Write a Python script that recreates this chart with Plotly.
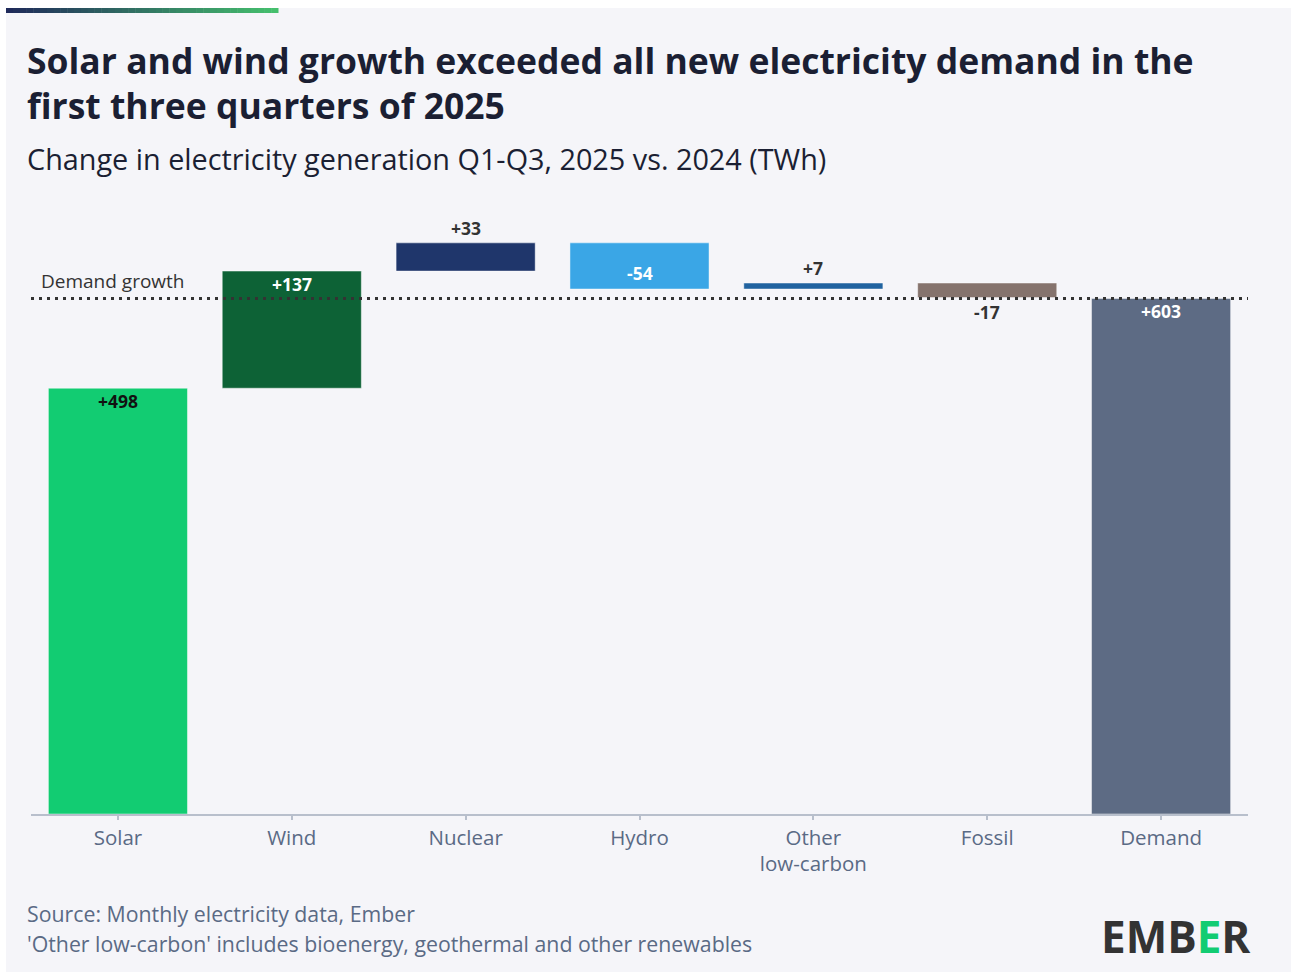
import plotly.graph_objects as go

categories = ["Solar", "Wind", "Nuclear", "Hydro", "Other<br>low-carbon", "Fossil", "Demand"]
changes = [498, 137, 33, -54, 7, -17, 603]
is_total = [False, False, False, False, False, False, True]
labels = ["+498", "+137", "+33", "-54", "+7", "-17", "+603"]
demand_growth = 603

colors = ["#12cc72", "#0d6236", "#1f366b", "#3aa6e6", "#2163a0", "#85736d", "#5d6b84"]
label_colors = ["#111111", "#ffffff", "#333333", "#ffffff", "#333333", "#333333", "#ffffff"]
label_place = ["inside", "inside", "above", "inside_low", "above", "below", "inside"]

W, H = 1291, 972
L, R, T, B = 31, 1248, 214, 814
YMAX = (B - T) / 0.855

def px(x):
    return (x - L) / (R - L)

def py(y):
    return (B - y) / (B - T)

# compute waterfall bases
bases, heights, tops, bottoms = [], [], [], []
cum = 0
for v, tot in zip(changes, is_total):
    if tot:
        b, h = 0, v
    else:
        b = cum if v >= 0 else cum + v
        h = abs(v)
        cum += v
    bases.append(b)
    heights.append(h)
    bottoms.append(b)
    tops.append(b + h)

font = "Open Sans"
fig = go.Figure()
fig.add_trace(go.Bar(
    x=categories, y=heights, base=bases,
    marker=dict(color=colors, line=dict(color="rgba(255,255,255,0.45)", width=1)),
    width=0.8, hoverinfo="skip", showlegend=False,
))

annotations = []
for c, t, b, lab, lc, pl in zip(categories, tops, bottoms, labels, label_colors, label_place):
    if pl == "inside":
        y, ys = t, -13
    elif pl == "above":
        y, ys = t, 15
    elif pl == "inside_low":
        y, ys = b, 16
    else:
        y, ys = b, -14
    annotations.append(dict(x=c, y=y, yshift=ys, text=f"<b>{lab}</b>", showarrow=False,
                            font=dict(family=font, size=17.5, color=lc), xanchor="center", yanchor="middle"))

# Demand growth label
annotations.append(dict(x=px(39), y=py(281), xref="paper", yref="paper", text="Demand growth",
                        showarrow=False, xanchor="left", yanchor="middle",
                        font=dict(family=font, size=19, color="#333333")))

# Titles
title_color = "#1b1f33"
annotations.append(dict(x=px(25), y=py(60), xref="paper", yref="paper",
                        text="<b>Solar and wind growth exceeded all new electricity demand in the</b>",
                        showarrow=False, xanchor="left", yanchor="middle",
                        font=dict(family=font, size=35.5, color=title_color)))
annotations.append(dict(x=px(25), y=py(105), xref="paper", yref="paper",
                        text="<b>first three quarters of 2025</b>",
                        showarrow=False, xanchor="left", yanchor="middle",
                        font=dict(family=font, size=35.5, color=title_color)))
annotations.append(dict(x=px(25), y=py(158), xref="paper", yref="paper",
                        text="Change in electricity generation Q1-Q3, 2025 vs. 2024 (TWh)",
                        showarrow=False, xanchor="left", yanchor="middle",
                        font=dict(family=font, size=28.8, color=title_color)))
# Footer
annotations.append(dict(x=px(25), y=py(913), xref="paper", yref="paper",
                        text="Source: Monthly electricity data, Ember",
                        showarrow=False, xanchor="left", yanchor="middle",
                        font=dict(family=font, size=21.3, color="#5a6a85")))
annotations.append(dict(x=px(25), y=py(943), xref="paper", yref="paper",
                        text="'Other low-carbon' includes bioenergy, geothermal and other renewables",
                        showarrow=False, xanchor="left", yanchor="middle",
                        font=dict(family=font, size=21.3, color="#5a6a85")))
annotations.append(dict(x=px(1253), y=py(936), xref="paper", yref="paper",
                        text="<b>EMB<span style='color:#12cc72'>E</span>R</b>",
                        showarrow=False, xanchor="right", yanchor="middle",
                        font=dict(family=font, size=44, color="#333333")))

shapes = []
# card background
shapes.append(dict(type="rect", xref="paper", yref="paper", x0=px(6), x1=px(1291), y0=py(8), y1=py(972),
                   fillcolor="#f5f5f9", line=dict(width=0), layer="below"))
# gradient bar on top
n = 40
c0 = (0x1f, 0x2a, 0x5a)
c1 = (0x45, 0xbf, 0x6d)
gx0, gx1 = 6, 278
for i in range(n):
    f = i / (n - 1)
    col = tuple(int(round(c0[k] + (c1[k] - c0[k]) * f)) for k in range(3))
    shapes.append(dict(type="rect", xref="paper", yref="paper",
                       x0=px(gx0 + (gx1 - gx0) * i / n), x1=px(gx0 + (gx1 - gx0) * (i + 1) / n + 0.5),
                       y0=py(8), y1=py(13), fillcolor="rgb(%d,%d,%d)" % col, line=dict(width=0), layer="below"))
# demand growth dotted line
shapes.append(dict(type="line", xref="paper", yref="y", x0=0, x1=1, y0=demand_growth, y1=demand_growth,
                   line=dict(color="#333333", width=3, dash="3px,5px"), layer="above"))

fig.update_layout(
    width=W, height=H, autosize=False,
    margin=dict(l=L, r=W - R, t=T, b=H - B, pad=0),
    paper_bgcolor="#ffffff", plot_bgcolor="rgba(0,0,0,0)",
    bargap=0.2,
    xaxis=dict(showgrid=False, showline=True, linecolor="#b8bfcc", linewidth=2,
               ticks="outside", ticklen=4, tickcolor="#b8bfcc", tickwidth=1.5,
               tickfont=dict(family=font, size=20.5, color="#5a6a85"), fixedrange=True),
    yaxis=dict(range=[0, YMAX], showgrid=False, showticklabels=False, zeroline=False,
               showline=False, fixedrange=True),
    annotations=annotations, shapes=shapes,
    font=dict(family=font),
)

fig.write_html("out.html")
